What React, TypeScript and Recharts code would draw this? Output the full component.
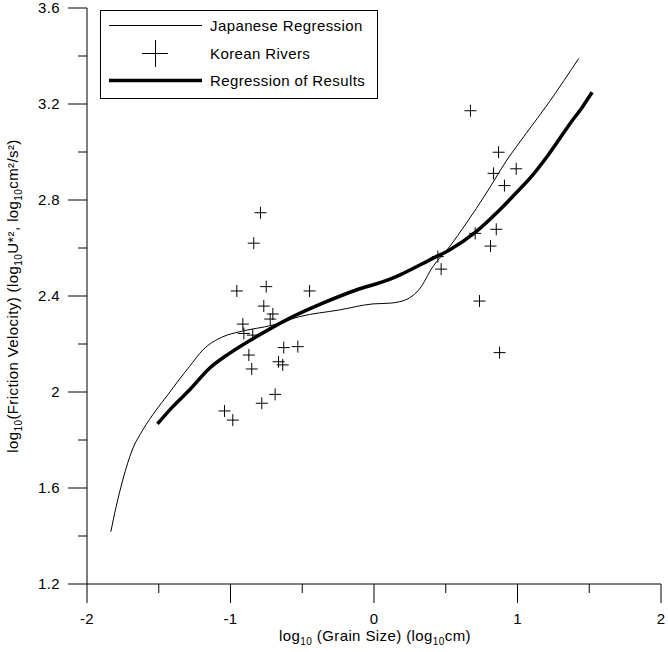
import React from 'react';
import { ScatterChart, Scatter, XAxis, YAxis, Legend, Label } from 'recharts';

const seriesNames = ['Japanese Regression', 'Korean Rivers', 'Regression of Results'];

const japaneseX = [-1.834, -1.797, -1.751, -1.685, -1.611, -1.518, -1.437, -1.36, -1.286, -1.193, -1.054, -0.937, -0.705, -0.519, -0.24, -0.008, 0.108, 0.178, 0.247, 0.317, 0.41, 0.526, 0.643, 0.782, 0.921, 1.061, 1.223, 1.427];
const japaneseY = [1.418, 1.522, 1.633, 1.758, 1.842, 1.925, 1.988, 2.05, 2.106, 2.175, 2.23, 2.251, 2.279, 2.314, 2.342, 2.367, 2.37, 2.376, 2.392, 2.429, 2.522, 2.605, 2.703, 2.828, 2.962, 3.078, 3.21, 3.39];

const resultX = [-1.509, -1.402, -1.286, -1.146, -1.007, -0.821, -0.589, -0.357, -0.124, 0.108, 0.178, 0.41, 0.526, 0.712, 0.875, 0.991, 1.107, 1.223, 1.362, 1.455, 1.52];
const resultY = [1.867, 1.939, 2.008, 2.099, 2.161, 2.23, 2.307, 2.37, 2.425, 2.469, 2.487, 2.557, 2.592, 2.668, 2.758, 2.83, 2.905, 2.995, 3.115, 3.19, 3.249];

const riversX = [-0.791, -0.838, -0.956, -0.751, -0.449, -0.768, -0.705, -0.723, -0.914, -0.907, -0.845, -0.872, -0.629, -0.531, -0.852, -0.665, -0.636, -0.689, -0.782, -1.042, -0.984, 0.672, 0.868, 0.833, 0.991, 0.909, 0.445, 0.468, 0.705, 0.852, 0.812, 0.735, 0.875];
const riversY = [2.747, 2.62, 2.421, 2.439, 2.421, 2.358, 2.325, 2.304, 2.283, 2.244, 2.237, 2.154, 2.185, 2.189, 2.096, 2.126, 2.113, 1.99, 1.953, 1.921, 1.883, 3.172, 2.999, 2.911, 2.93, 2.86, 2.564, 2.512, 2.661, 2.678, 2.608, 2.379, 2.164];

const xTicks = [-2, -1.5, -1, -0.5, 0, 0.5, 1, 1.5, 2];
const yTicks = [1.2, 1.4, 1.6, 1.8, 2, 2.2, 2.4, 2.6, 2.8, 3, 3.2, 3.4, 3.6];

const zip = (xs: number[], ys: number[]) => xs.map((x, i) => ({ x, y: ys[i] }));
const japanese = zip(japaneseX, japaneseY);
const results = zip(resultX, resultY);
const rivers = zip(riversX, riversY);

const font = '"Liberation Sans", Arial, sans-serif';
const ls = 0.4;

const YTick = (props: any) => {
  const { x, y, payload } = props;
  const v = payload.value;
  const major = Math.round(v * 10) % 4 === 0;
  return (
    <g>
      <line x1={x - (major ? 19 : 9)} x2={x} y1={y} y2={y} stroke="#000" />
      {major && (
        <text x={x - 27} y={y} dy="0.36em" textAnchor="end" fontSize={15} letterSpacing={ls} fontFamily={font} fill="#000">
          {String(v)}
        </text>
      )}
    </g>
  );
};

const XTick = (props: any) => {
  const { x, y, payload } = props;
  const v = payload.value;
  const major = Number.isInteger(v);
  return (
    <g>
      <line x1={x} x2={x} y1={y} y2={y + (major ? 19 : 9)} stroke="#000" />
      {major && (
        <text x={x} y={y + 40} textAnchor="middle" fontSize={15} letterSpacing={ls} fontFamily={font} fill="#000">
          {String(v)}
        </text>
      )}
    </g>
  );
};

const Cross = (props: any) => {
  const { cx, cy } = props;
  return (
    <g>
      <line x1={cx - 6} x2={cx + 6} y1={cy} y2={cy} stroke="#000" />
      <line x1={cx} x2={cx} y1={cy - 6} y2={cy + 6} stroke="#000" />
    </g>
  );
};

const Nothing = () => <g />;

const LegendBox = () => (
  <svg width={279} height={90} style={{ display: 'block' }}>
    <rect x={0.5} y={0.5} width={277} height={88} fill="#fff" stroke="#000" />
    <line x1={9} x2={102} y1={15.5} y2={15.5} stroke="#000" />
    <line x1={42} x2={68} y1={43.5} y2={43.5} stroke="#000" />
    <line x1={55.5} x2={55.5} y1={30} y2={57} stroke="#000" />
    <line x1={9} x2={102} y1={70.5} y2={70.5} stroke="#000" strokeWidth={3.5} />
    {seriesNames.map((n, i) => (
      <text key={n} x={110} y={21 + i * 27.5} fontSize={15} letterSpacing={ls} fontFamily={font} fill="#000">
        {n}
      </text>
    ))}
  </svg>
);

export default function App() {
  return (
    <div style={{ position: 'absolute', left: 0, top: 0, background: '#fff' }}>
      <ScatterChart width={668} height={652} margin={{ top: 8, right: 7, left: 0, bottom: 0 }}>
        <XAxis
          type="number"
          dataKey="x"
          domain={[-2, 2]}
          ticks={xTicks}
          height={68}
          tickSize={0}
          tickMargin={0}
          tickLine={false}
          axisLine={{ stroke: '#000' }}
          tick={<XTick />}
          interval={0}
        >
          <Label
            content={() => (
              <text x={375} y={641} textAnchor="middle" fontSize={15} letterSpacing={ls} fontFamily={font} fill="#000">
                log<tspan fontSize={10} dy={4}>10</tspan>
                <tspan dy={-4}> (Grain Size) (log</tspan>
                <tspan fontSize={10} dy={4}>10</tspan>
                <tspan dy={-4}>cm)</tspan>
              </text>
            )}
          />
        </XAxis>
        <YAxis
          type="number"
          dataKey="y"
          domain={[1.2, 3.6]}
          ticks={yTicks}
          width={87}
          tickSize={0}
          tickMargin={0}
          tickLine={false}
          axisLine={{ stroke: '#000' }}
          tick={<YTick />}
          interval={0}
        >
          <Label
            content={() => (
              <text
                x={18}
                y={296}
                transform="rotate(-90, 18, 296)"
                textAnchor="middle"
                fontSize={15}
                letterSpacing={ls}
                fontFamily={font}
                fill="#000"
              >
                log<tspan fontSize={10} dy={4}>10</tspan>
                <tspan dy={-4}>(Friction Velocity) (log</tspan>
                <tspan fontSize={10} dy={4}>10</tspan>
                <tspan dy={-4}>U*², log</tspan>
                <tspan fontSize={10} dy={4}>10</tspan>
                <tspan dy={-4}>cm²/s²)</tspan>
              </text>
            )}
          />
        </YAxis>
        <Legend
          layout="vertical"
          align="center"
          verticalAlign="middle"
          wrapperStyle={{ left: 100, top: 10, width: 279, height: 90 }}
          content={() => <LegendBox />}
        />
        <Scatter
          name={seriesNames[0]}
          data={japanese}
          line={{ stroke: '#000', strokeWidth: 1 }}
          lineType="joint"
          lineJointType="monotoneX"
          shape={<Nothing />}
          isAnimationActive={false}
        />
        <Scatter
          name={seriesNames[2]}
          data={results}
          line={{ stroke: '#000', strokeWidth: 3.5 }}
          lineType="joint"
          lineJointType="monotoneX"
          shape={<Nothing />}
          isAnimationActive={false}
        />
        <Scatter name={seriesNames[1]} data={rivers} shape={<Cross />} isAnimationActive={false} />
      </ScatterChart>
    </div>
  );
}
